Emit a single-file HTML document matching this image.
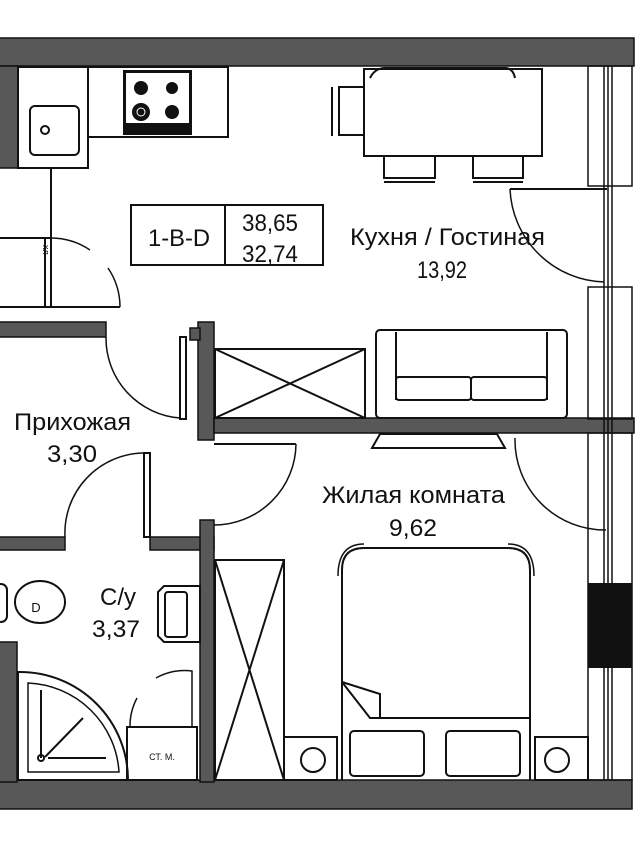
<!DOCTYPE html>
<html><head><meta charset="utf-8"><style>
html,body{margin:0;padding:0;background:#fff;}
svg{display:block;}
text{font-family:"Liberation Sans","DejaVu Sans",sans-serif;fill:#111;}
</style></head><body>
<svg width="635" height="849" viewBox="0 0 635 849" xmlns="http://www.w3.org/2000/svg">
<g fill="#585858" stroke="#111" stroke-width="1.5">
  <rect x="-2" y="38" width="636" height="28"/>
  <rect x="-2" y="780" width="634" height="29"/>
  <rect x="-2" y="66" width="20" height="102"/>
  <rect x="-2" y="322" width="108" height="15"/>
  <rect x="198" y="322" width="16" height="118"/>
  <rect x="190" y="328" width="10" height="12"/>
  <rect x="214" y="418" width="420" height="15"/>
  <rect x="-2" y="537" width="67" height="13"/>
  <rect x="150" y="537" width="64" height="13"/>
  <rect x="200" y="520" width="14" height="262"/>
  <rect x="-2" y="642" width="19" height="140"/>
</g>
<g stroke="#111" stroke-width="1.5" fill="none">
  <rect x="588" y="66" width="44" height="120"/>
  <rect x="588" y="287" width="44" height="132"/>
  <rect x="588" y="433" width="44" height="347"/>
  <line x1="604" y1="66" x2="604" y2="780"/>
  <line x1="608" y1="66" x2="608" y2="780"/>
  <line x1="612" y1="66" x2="612" y2="780"/>
</g>
<rect x="588" y="583" width="44" height="85" fill="#111"/>
<g stroke="#111" stroke-width="2" fill="none">
  <rect x="18" y="67" width="70" height="101"/>
  <rect x="30" y="106" width="49" height="49" rx="5"/>
  <circle cx="45" cy="130" r="4"/>
  <rect x="88" y="67" width="140" height="70"/>
  <line x1="51" y1="168" x2="51" y2="307"/>
  <line x1="0" y1="238" x2="51" y2="238"/>
  <line x1="0" y1="307" x2="120" y2="307"/>
  <line x1="45" y1="238" x2="45" y2="307"/>
  <path d="M51 238 A70 70 0 0 1 90 250" stroke-width="1.5"/>
  <path d="M108 268 A70 70 0 0 1 120 307" stroke-width="1.5"/>
  <rect x="131" y="205" width="192" height="60"/>
  <line x1="225" y1="205" x2="225" y2="265"/>
  <rect x="364" y="69" width="178" height="87"/>
  <path d="M370 78 Q375 68 385 68 L505 68 Q513 68 515 78"/>
  <rect x="339" y="87" width="25" height="48"/>
  <line x1="332" y1="87" x2="332" y2="136"/>
  <rect x="384" y="156" width="51" height="22"/>
  <line x1="384" y1="182" x2="435" y2="182"/>
  <rect x="473" y="156" width="50" height="22"/>
  <line x1="473" y1="182" x2="523" y2="182"/>
  <line x1="510" y1="189" x2="607" y2="189"/>
  <path d="M510 189 A97 97 0 0 0 604 282" stroke-width="1.5"/>
  <rect x="180" y="337" width="6" height="82"/>
  <path d="M106 337 A80 80 0 0 0 180 418" stroke-width="1.5"/>
  <rect x="215" y="349" width="150" height="69"/>
  <line x1="215" y1="349" x2="365" y2="418"/>
  <line x1="215" y1="418" x2="365" y2="349"/>
  <rect x="376" y="330" width="191" height="88" rx="4"/>
  <line x1="396" y1="332" x2="396" y2="400"/>
  <line x1="547" y1="332" x2="547" y2="400"/>
  <rect x="396" y="377" width="75" height="23" rx="3"/>
  <rect x="471" y="377" width="76" height="23" rx="3"/>
  <path d="M372 448 L380 434 L497 434 L505 448 Z"/>
  <line x1="214" y1="444" x2="296" y2="444"/>
  <path d="M296 444 A82 82 0 0 1 214 525" stroke-width="1.5"/>
  <path d="M515 438 A90 90 0 0 0 606 530" stroke-width="1.5"/>
  <rect x="144" y="453" width="6" height="84"/>
  <path d="M144 453 A80 80 0 0 0 65 537" stroke-width="1.5"/>
  <ellipse cx="40" cy="602" rx="25" ry="21"/>
  <rect x="-5" y="584" width="12" height="38" rx="6"/>
  <path d="M164 586 L200 586 L200 642 L164 642 L158 636 L158 592 Z"/>
  <rect x="165" y="592" width="22" height="45" rx="3"/>
  <path d="M18 672 L20 672 A108 108 0 0 1 128 780 L18 780 Z"/>
  <path d="M28 683 A95 95 0 0 1 119 772 L28 772 Z" stroke-width="1.5"/>
  <line x1="41" y1="690" x2="41" y2="758"/>
  <line x1="45" y1="757" x2="83" y2="718"/>
  <line x1="48" y1="758" x2="106" y2="758"/>
  <circle cx="41" cy="758" r="3"/>
  <rect x="127" y="727" width="70" height="53"/>
  <path d="M130 727 A60 60 0 0 1 137 698" stroke-width="1.5"/>
  <path d="M156 678 A60 60 0 0 1 192 671 L192 727" stroke-width="1.5"/>
  <rect x="215" y="560" width="69" height="220"/>
  <line x1="215" y1="560" x2="284" y2="780"/>
  <line x1="284" y1="560" x2="215" y2="780"/>
  <rect x="284" y="737" width="53" height="43"/>
  <circle cx="313" cy="760" r="12"/>
  <rect x="535" y="737" width="53" height="43"/>
  <circle cx="557" cy="760" r="12"/>
  <path d="M342 780 L342 570 Q342 548 364 548 L508 548 Q530 548 530 570 L530 780"/>
  <path d="M338 576 Q338 544 364 544" stroke-width="1.5"/>
  <path d="M534 576 Q534 544 508 544" stroke-width="1.5"/>
  <path d="M342 682 L370 718 L530 718"/>
  <path d="M342 682 L380 694 L380 718"/>
  <rect x="350" y="731" width="74" height="45" rx="4"/>
  <rect x="446" y="731" width="74" height="45" rx="4"/>
</g>
<rect x="123" y="70" width="69" height="65" fill="#111"/>
<rect x="126" y="73" width="63" height="50" fill="#fff"/>
<g fill="#111"><circle cx="141" cy="88" r="7"/><circle cx="172" cy="88" r="6"/><circle cx="141" cy="112" r="9"/><circle cx="172" cy="112" r="7"/></g>
<circle cx="141" cy="112" r="4" fill="none" stroke="#fff"/>
<text x="43" y="245" font-size="9" transform="rotate(90 43 245)">хл</text>
<g font-size="24" lengthAdjust="spacingAndGlyphs">
  <text x="148" y="246" textLength="62" lengthAdjust="spacingAndGlyphs">1-B-D</text>
  <text x="242" y="231" textLength="56" lengthAdjust="spacingAndGlyphs">38,65</text>
  <text x="242" y="262" textLength="56" lengthAdjust="spacingAndGlyphs">32,74</text>
  <text x="350" y="245" textLength="195" lengthAdjust="spacingAndGlyphs">Кухня / Гостиная</text>
  <text x="417" y="278" textLength="50" lengthAdjust="spacingAndGlyphs">13,92</text>
  <text x="14" y="430" textLength="117" lengthAdjust="spacingAndGlyphs">Прихожая</text>
  <text x="47" y="462" textLength="50" lengthAdjust="spacingAndGlyphs">3,30</text>
  <text x="322" y="503" textLength="183" lengthAdjust="spacingAndGlyphs">Жилая комната</text>
  <text x="389" y="536" textLength="48" lengthAdjust="spacingAndGlyphs">9,62</text>
  <text x="100" y="605" textLength="36" lengthAdjust="spacingAndGlyphs">С/у</text>
  <text x="92" y="637" textLength="48" lengthAdjust="spacingAndGlyphs">3,37</text>
</g>
<text x="36" y="612" font-size="13" text-anchor="middle">D</text>
<text x="162" y="760" font-size="9" text-anchor="middle">СТ. М.</text>
</svg>
</body></html>
